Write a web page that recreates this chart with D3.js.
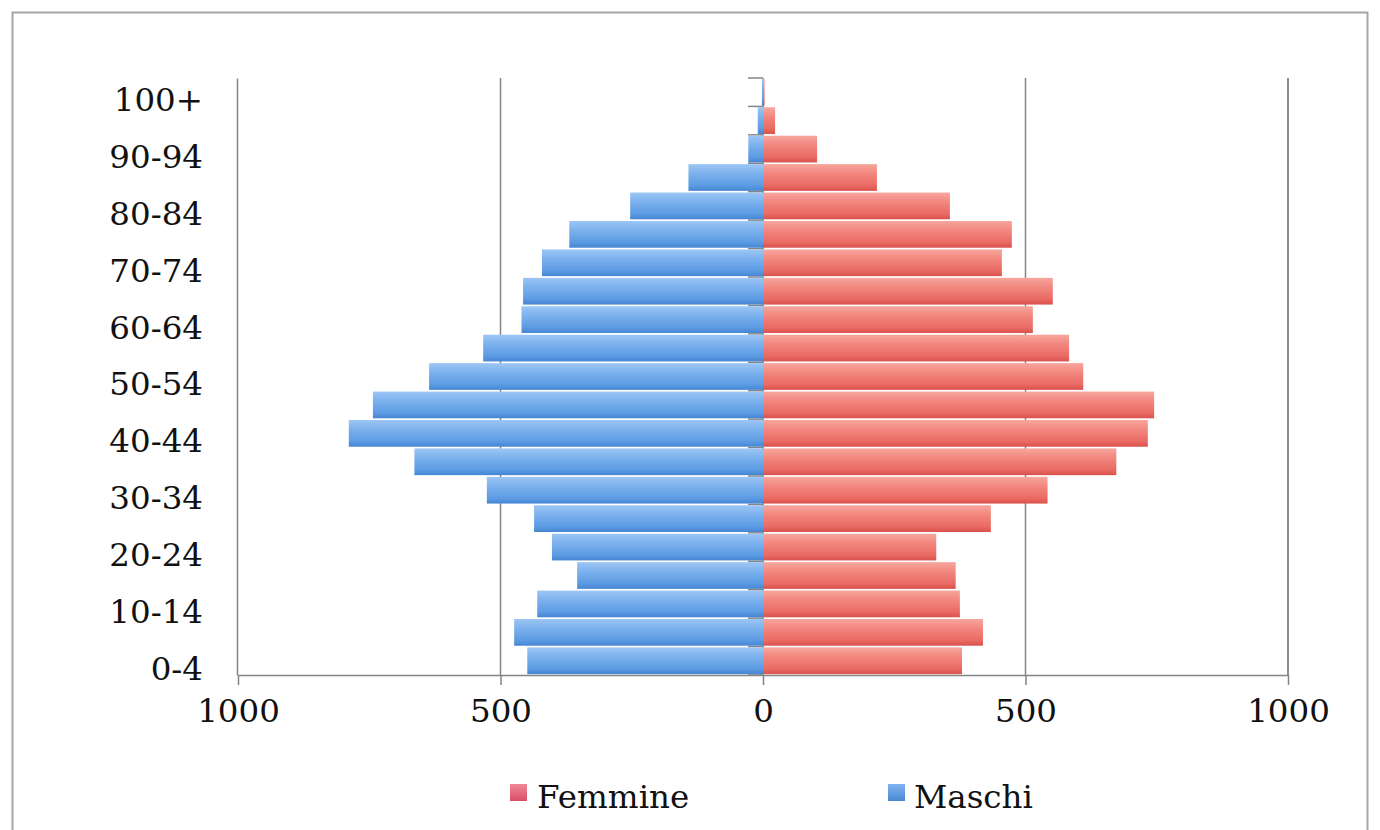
<!DOCTYPE html>
<html>
<head>
<meta charset="utf-8">
<script src="https://cdn.jsdelivr.net/npm/d3@7"></script>
<style>
  html, body { margin: 0; padding: 0; background: #fff; }
  svg { display: block; }
  text { font-family: "DejaVu Serif", serif; fill: #111; }
</style>
</head>
<body>
<svg id="chart" width="1380" height="830"></svg>
<script>
// Age classes, bottom (youngest) to top (oldest)
const categories = ["0-4","5-9","10-14","15-19","20-24","25-29","30-34","35-39","40-44","45-49",
  "50-54","55-59","60-64","65-69","70-74","75-79","80-84","85-89","90-94","95-99","100+"];
const maschi  = [449, 474, 430, 354, 402, 436, 526, 664, 789, 743, 636, 533, 460, 457, 421, 369, 253, 142, 28, 10, 2];
const femmine = [379, 419, 375, 367, 330, 434, 542, 673, 733, 745, 610, 583, 514, 552, 455, 474, 356, 217, 103, 23, 3];
const xTicks = [-1000, -500, 0, 500, 1000];
const seriesNames = ["Femmine", "Maschi"];

const svg = d3.select("#chart");
const plot = { left: 238, right: 1288, top: 78, bottom: 675 };
const FS = "32.5px";

// frame
svg.append("rect").attr("x", 12.5).attr("y", 12.5).attr("width", 1355).attr("height", 840)
  .attr("fill", "#fff").attr("stroke", "#a6a6a6").attr("stroke-width", 2);

const defs = svg.append("defs");
function grad(id, stops) {
  const g = defs.append("linearGradient").attr("id", id).attr("x1", 0).attr("y1", 0).attr("x2", 0).attr("y2", 1);
  stops.forEach(s => g.append("stop").attr("offset", s[0]).attr("stop-color", s[1]));
}
grad("gBlue", [[0, "#9cc6f5"], [0.35, "#7cb1ed"], [0.8, "#5c9be3"], [1, "#4585d2"]]);
grad("gRed",  [[0, "#f7a69d"], [0.35, "#f2877f"], [0.8, "#e96a63"], [1, "#da514c"]]);
grad("gRedL", [[0, "#f08896"], [1, "#d84e66"]]);
grad("gBlueL", [[0, "#7fb3ee"], [1, "#4a88d4"]]);

const x = d3.scaleLinear().domain([-1000, 1000]).range([plot.left, plot.right]);
const y = d3.scaleBand().domain(categories.slice().reverse())
  .range([plot.top, plot.bottom]).paddingInner(0.06).paddingOuter(0.03);

const axisColor = "#858585";

// gridlines
svg.append("g").selectAll("line").data(xTicks.filter(d => d !== 0 && d !== -1000))
  .join("line")
  .attr("x1", d => x(d)).attr("x2", d => x(d))
  .attr("y1", plot.top).attr("y2", plot.bottom)
  .attr("stroke", axisColor).attr("stroke-width", 1.5);

// center category axis with boundary ticks
const step = (plot.bottom - plot.top) / categories.length;
const bounds = d3.range(categories.length + 1).map(i => plot.top + i * step);
svg.append("g").selectAll("line").data(bounds).join("line")
  .attr("x1", x(0) - 15).attr("x2", x(0))
  .attr("y1", d => d).attr("y2", d => d)
  .attr("stroke", axisColor).attr("stroke-width", 1.5);
svg.append("line").attr("x1", x(0)).attr("x2", x(0))
  .attr("y1", plot.top).attr("y2", plot.bottom)
  .attr("stroke", axisColor).attr("stroke-width", 1.5);

// bars
const rows = categories.map((c, i) => ({ c, m: maschi[i], f: femmine[i] }));
svg.append("g").selectAll("rect").data(rows).join("rect")
  .attr("x", d => x(-d.m)).attr("width", d => x(0) - x(-d.m))
  .attr("y", d => y(d.c)).attr("height", y.bandwidth())
  .attr("fill", "url(#gBlue)");
svg.append("g").selectAll("rect").data(rows).join("rect")
  .attr("x", x(0)).attr("width", d => x(d.f) - x(0))
  .attr("y", d => y(d.c)).attr("height", y.bandwidth())
  .attr("fill", "url(#gRed)");

// bottom axis
const xAxis = d3.axisBottom(x).tickValues(xTicks).tickFormat(d => Math.abs(d))
  .tickSizeInner(10).tickSizeOuter(0).tickPadding(14);
const gx = svg.append("g").attr("transform", `translate(0,${plot.bottom})`).call(xAxis);
gx.select(".domain").attr("stroke", axisColor).attr("stroke-width", 1.5);
gx.selectAll(".tick line").attr("stroke", axisColor).attr("stroke-width", 1.5);
gx.selectAll(".tick text").attr("font-size", FS).attr("font-family", "DejaVu Serif").attr("fill", "#111");

// right gridline at 1000
svg.append("line").attr("x1", x(1000)).attr("x2", x(1000)).attr("y1", plot.top).attr("y2", plot.bottom)
  .attr("stroke", axisColor).attr("stroke-width", 1.5);

// left axis with labels
const yAxis = d3.axisLeft(y)
  .tickFormat(d => (categories.indexOf(d) % 2 === 0 ? d : ""))
  .tickSize(0).tickPadding(34);
const gy = svg.append("g").attr("transform", `translate(${plot.left - 1},0)`).call(yAxis);
gy.select(".domain").attr("stroke", axisColor).attr("stroke-width", 1.5);
gy.selectAll(".tick text").attr("font-size", FS).attr("font-family", "DejaVu Serif")
  .attr("fill", "#111").attr("dy", "0.58em");

// legend
const legend = svg.append("g");
const legendItems = [
  { name: seriesNames[0], fill: "url(#gRedL)", sx: 510, tx: 537 },
  { name: seriesNames[1], fill: "url(#gBlueL)", sx: 888, tx: 914 }
];
legendItems.forEach(it => {
  legend.append("rect").attr("x", it.sx).attr("y", 784).attr("width", 17).attr("height", 17).attr("fill", it.fill);
  legend.append("text").attr("x", it.tx).attr("y", 808).attr("font-size", FS).text(it.name);
});
</script>
</body>
</html>
